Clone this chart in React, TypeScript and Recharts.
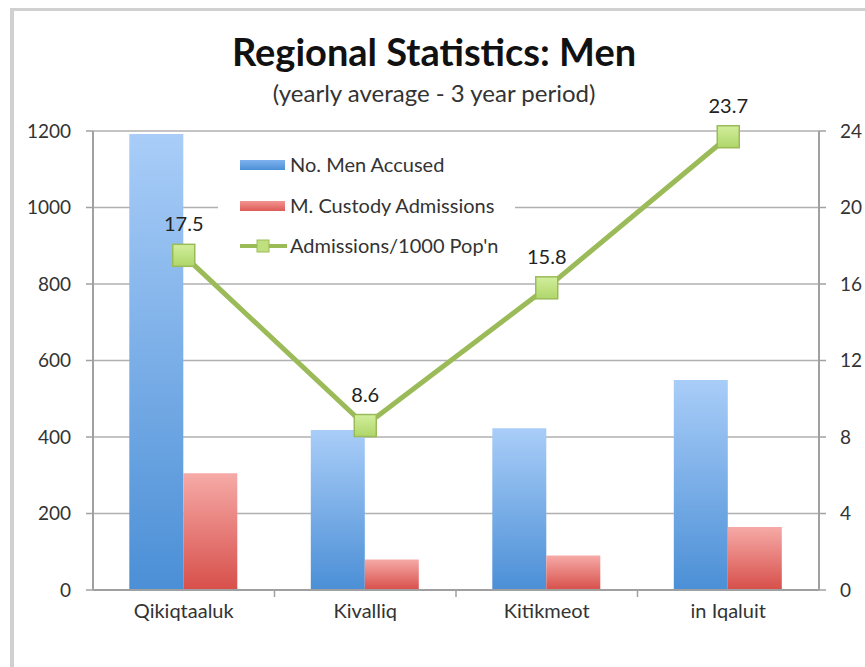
import React from 'react';
import { ComposedChart, Bar, Line, XAxis, YAxis, CartesianGrid, Legend, LabelList } from 'recharts';

const regions = ['Qikiqtaaluk', 'Kivalliq', 'Kitikmeot', 'in Iqaluit'];
const menAccused = [1192, 418, 423, 549];
const custodyAdmissions = [305, 80, 90, 165];
const admissionsPer1000 = [17.5, 8.6, 15.8, 23.7];

const leftTicks = [0, 200, 400, 600, 800, 1000, 1200];
const rightTicks = [0, 4, 8, 12, 16, 20, 24];

const seriesNames = ['No. Men Accused', 'M. Custody Admissions', "Admissions/1000 Pop'n"];

const data = regions.map((r, i) => ({
  region: r,
  accused: menAccused[i],
  custody: custodyAdmissions[i],
  rate: admissionsPer1000[i],
}));

const FONT = 'Lato, "Open Sans", sans-serif';
const PLOT_LEFT = 93;
const PLOT_RIGHT = 819;
const STEP = (PLOT_RIGHT - PLOT_LEFT) / regions.length;

// label centred under category, small tick mark on boundary between categories
const CategoryTick = ({ x, y, payload, index }: any) => (
  <g>
    {index > 0 && (
      <line x1={x - STEP / 2} x2={x - STEP / 2} y1={y} y2={y + 7} stroke="#a0a0a0" strokeWidth={1.5} />
    )}
    <text x={x} y={y + 28} textAnchor="middle" fill="#333" fontSize={20} fontFamily={FONT}>
      {payload.value}
    </text>
  </g>
);

const SquareDot = ({ cx, cy }: any) => {
  if (cx == null || cy == null) return null;
  return (
    <rect x={cx - 11} y={cy - 11} width={22} height={22} fill="url(#dotGreen)" stroke="#9bbb59" strokeWidth={1.5} />
  );
};

const LegendBox = () => {
  const rows = [20, 61, 101];
  return (
    <svg width={297} height={118} style={{ display: 'block' }}>
      <rect x={0} y={0} width={297} height={118} fill="#fff" />
      <rect x={22} y={rows[0] - 5} width={45} height={10} fill="url(#legBlue)" />
      <rect x={22} y={rows[1] - 5} width={45} height={10} fill="url(#legRed)" />
      <line x1={22} x2={69} y1={rows[2]} y2={rows[2]} stroke="#9bbb59" strokeWidth={4} />
      <rect x={39} y={rows[2] - 6} width={12} height={12} fill="#bfe07f" stroke="#9bbb59" strokeWidth={1} />
      {seriesNames.map((n, i) => (
        <text key={n} x={72} y={rows[i] + 7} fill="#333" fontSize={20} fontFamily={FONT}>
          {n}
        </text>
      ))}
    </svg>
  );
};

export default function App() {
  return (
    <div style={{ position: 'absolute', left: 0, top: 0, width: 865, height: 667, background: '#fff', overflow: 'hidden' }}>
      <div
        style={{
          position: 'absolute',
          left: 10,
          top: 8,
          right: 0,
          bottom: 0,
          borderLeft: '4px solid #d0d0d0',
          borderTop: '3px solid #d0d0d0',
        }}
      />
      <div
        style={{
          position: 'absolute',
          left: 0,
          width: 868,
          top: 28,
          textAlign: 'center',
          fontFamily: FONT,
          fontWeight: 700,
          fontSize: 38,
          lineHeight: '46px',
          color: '#111',
        }}
      >
        Regional Statistics: Men
      </div>
      <div
        style={{
          position: 'absolute',
          left: 0,
          width: 868,
          top: 78,
          textAlign: 'center',
          fontFamily: FONT,
          fontSize: 24,
          lineHeight: '30px',
          color: '#333',
        }}
      >
        (yearly average - 3 year period)
      </div>
      <div style={{ position: 'absolute', left: 0, top: 0 }}>
        <ComposedChart
          width={865}
          height={667}
          data={data}
          margin={{ top: 131, right: 0, bottom: 0, left: 0 }}
          barCategoryGap="20%"
          barGap={0}
        >
          <defs>
            <linearGradient id="barBlue" x1="0" y1="0" x2="0" y2="1">
              <stop offset="0%" stopColor="#a9cdf8" />
              <stop offset="100%" stopColor="#4b8fd6" />
            </linearGradient>
            <linearGradient id="barRed" x1="0" y1="0" x2="0" y2="1">
              <stop offset="0%" stopColor="#f6aaa7" />
              <stop offset="100%" stopColor="#d74f4a" />
            </linearGradient>
            <linearGradient id="legBlue" x1="0" y1="0" x2="0" y2="1">
              <stop offset="0%" stopColor="#7fb2ee" />
              <stop offset="100%" stopColor="#4b8fd6" />
            </linearGradient>
            <linearGradient id="legRed" x1="0" y1="0" x2="0" y2="1">
              <stop offset="0%" stopColor="#f39591" />
              <stop offset="100%" stopColor="#dc5a55" />
            </linearGradient>
            <linearGradient id="dotGreen" x1="0" y1="0" x2="0" y2="1">
              <stop offset="0%" stopColor="#d2ee9c" />
              <stop offset="100%" stopColor="#afd66a" />
            </linearGradient>
          </defs>
          <CartesianGrid vertical={false} yAxisId="left" stroke="#b0b0b0" strokeWidth={1.5} />
          <XAxis
            dataKey="region"
            height={77}
            tickLine={false}
            tickSize={0}
            tickMargin={0}
            interval={0}
            tick={<CategoryTick />}
            axisLine={{ stroke: '#a0a0a0', strokeWidth: 2 }}
          />
          <YAxis
            yAxisId="left"
            width={93}
            domain={[0, 1200]}
            ticks={leftTicks}
            tickSize={7}
            tickMargin={15}
            tickLine={{ stroke: '#a0a0a0', strokeWidth: 1.5 }}
            axisLine={{ stroke: '#a0a0a0', strokeWidth: 2 }}
            tick={{ fill: '#333', fontSize: 19, fontFamily: FONT }}
          />
          <YAxis
            yAxisId="right"
            orientation="right"
            width={46}
            domain={[0, 24]}
            ticks={rightTicks}
            tickSize={7}
            tickMargin={14}
            tickLine={{ stroke: '#a0a0a0', strokeWidth: 1.5 }}
            axisLine={{ stroke: '#a0a0a0', strokeWidth: 2 }}
            tick={{ fill: '#333', fontSize: 19, fontFamily: FONT }}
          />
          <Legend
            layout="horizontal"
            verticalAlign="middle"
            align="center"
            content={<LegendBox />}
            wrapperStyle={{ left: 218, top: 145, width: 297, height: 118 }}
          />
          <Bar yAxisId="left" dataKey="accused" name={seriesNames[0]} fill="url(#barBlue)" isAnimationActive={false} />
          <Bar yAxisId="left" dataKey="custody" name={seriesNames[1]} fill="url(#barRed)" isAnimationActive={false} />
          <Line
            yAxisId="right"
            type="linear"
            dataKey="rate"
            name={seriesNames[2]}
            stroke="#9bbb59"
            strokeWidth={5}
            dot={<SquareDot />}
            activeDot={false}
            isAnimationActive={false}
          >
            <LabelList dataKey="rate" position="top" offset={24} fill="#222" fontSize={20} fontFamily={FONT} />
          </Line>
        </ComposedChart>
      </div>
    </div>
  );
}
